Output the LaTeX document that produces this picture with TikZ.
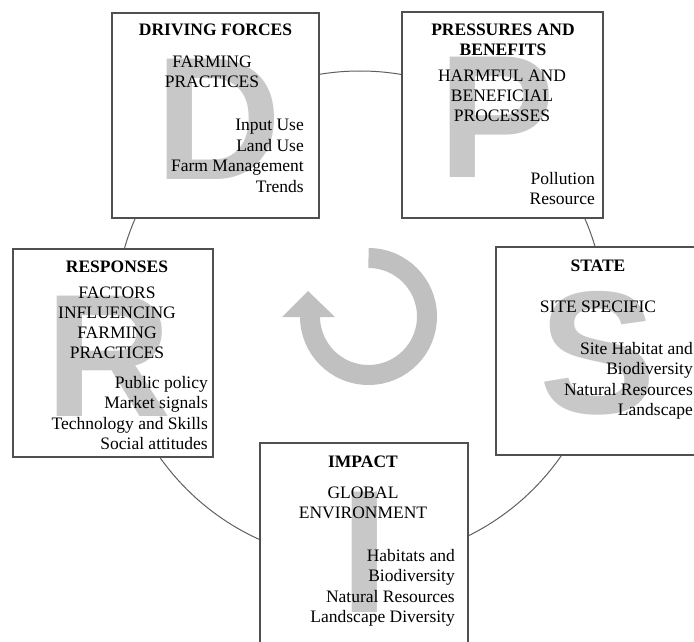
\documentclass[tikz,border=0pt]{standalone}
\usepackage{fontspec}
\setmainfont{Liberation Serif}
\newfontfamily\letterfont{Liberation Sans}
\definecolor{boxgray}{RGB}{80,80,80}
\definecolor{linegray}{RGB}{95,95,95}
\definecolor{lettergray}{RGB}{200,200,200}
\definecolor{ringgray}{RGB}{192,192,192}
\tikzset{
  box/.style = {draw = boxgray, line width = 1.5pt, fill = white, inner sep = 0pt},
  bigletter/.style = {text = lettergray, inner sep = 0pt, font = \letterfont\bfseries\fontsize{175}{175}\selectfont},
  head/.style = {inner sep = 0pt, align = center, font = \bfseries\fontsize{17.5}{20}\selectfont},
  sub/.style = {inner sep = 0pt, align = center, font = \fontsize{17.5}{20}\selectfont},
  items/.style = {inner sep = 0pt, align = right, anchor = north east, font = \fontsize{17.5}{20.5}\selectfont}
}
\begin{document}
\begin{tikzpicture}[x = 1pt, y = -1pt]
\useasboundingbox (0,0) rectangle (694,642);
\clip (0,0) rectangle (694,642);
\draw [linegray, line width = 1pt] (360,316) circle [radius = 245];
\node [box, minimum width = 207pt, minimum height = 205pt] (dbox) at (215.5,115.5) {};
\node [box, minimum width = 201pt, minimum height = 206pt] (pbox) at (502.5,115) {};
\node [box, minimum width = 200pt, minimum height = 208pt] (rbox) at (113,353) {};
\node [box, minimum width = 204pt, minimum height = 208pt] (sbox) at (598,351) {};
\node [box, minimum width = 208pt, minimum height = 210pt] (ibox) at (364,548) {};
\node [bigletter] (dletter) at (218.5,119.5) {D};
\node [bigletter] (pletter) at (497,117.5) {P};
\node [bigletter] (rletter) at (108.5,356) {R};
\node [bigletter] (sletter) at (597.5,353) {S};
\node [bigletter] (iletter) at (365,552) {I};
\node [head] (dhead) at (215.5,30) {DRIVING FORCES};
\node [head] (phead) at (503,40) {PRESSURES AND\\BENEFITS};
\node [head] (rhead) at (117,267) {RESPONSES};
\node [head] (shead) at (598,266) {STATE};
\node [head] (ihead) at (363,462) {IMPACT};
\node [sub] (dsub) at (212,71.5) {FARMING\\PRACTICES};
\node [sub] (psub) at (502,96) {HARMFUL AND\\BENEFICIAL\\PROCESSES};
\node [sub] (rsub) at (117,323) {FACTORS\\INFLUENCING\\FARMING\\PRACTICES};
\node [sub] (ssub) at (598,307) {SITE SPECIFIC};
\node [sub] (isub) at (363,502.5) {GLOBAL\\ENVIRONMENT};
\node [items] (ditems) at (304,119) {Input Use\\Land Use\\Farm Management\\Trends};
\node [items] (pitems) at (595,172) {Pollution\\Resource};
\node [items] (ritems) at (208,376) {Public policy\\Market signals\\Technology and Skills\\Social attitudes};
\node [items] (sitems) at (693,342) {Site Habitat and\\Biodiversity\\Natural Resources\\Landscape};
\node [items] (iitems) at (455,549) {Habitats and\\Biodiversity\\Natural Resources\\Landscape Diversity};
\draw [ringgray, line width = 20pt] (368.5,258) arc [start angle = -90, end angle = 180, radius = 58.5];
\fill [ringgray] (282,317) -- (308,291) -- (335,317) -- cycle;
\end{tikzpicture}
\end{document}
